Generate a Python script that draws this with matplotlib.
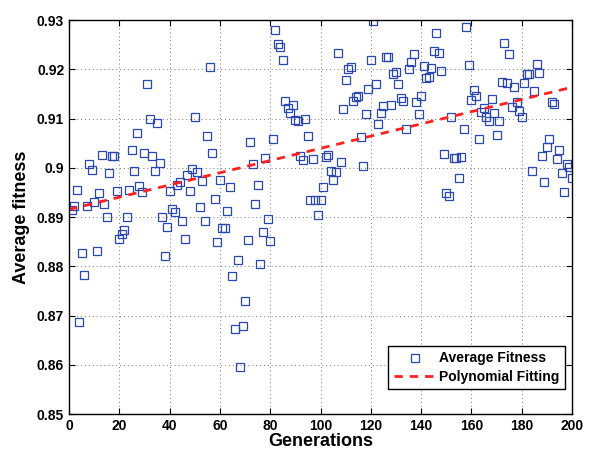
import matplotlib
matplotlib.use("Agg")
import matplotlib.pyplot as plt
import numpy as np

# Данные: поколения и средняя приспособленность
generations = np.arange(1, 201)
avg_fitness = [
    0.8915, 0.8922, 0.8955, 0.8686, 0.8826, 0.8783, 0.8922, 0.9008, 0.8996, 0.8930,
    0.8832, 0.8949, 0.9026, 0.8927, 0.8901, 0.8990, 0.9023, 0.9023, 0.8952, 0.8856,
    0.8866, 0.8873, 0.8901, 0.8955, 0.9037, 0.8993, 0.9070, 0.8962, 0.8950, 0.9030,
    0.9170, 0.9099, 0.9023, 0.8994, 0.9091, 0.9009, 0.8901, 0.8820, 0.8880, 0.8952,
    0.8916, 0.8911, 0.8966, 0.8971, 0.8891, 0.8855, 0.8986, 0.8953, 0.8997, 0.9103,
    0.8991, 0.8920, 0.8973, 0.8891, 0.9064, 0.9204, 0.9030, 0.8937, 0.8849, 0.8976,
    0.8878, 0.8878, 0.8912, 0.8960, 0.8781, 0.8672, 0.8812, 0.8596, 0.8678, 0.8730,
    0.8854, 0.9053, 0.9008, 0.8927, 0.8964, 0.8805, 0.8869, 0.9020, 0.8895, 0.8852,
    0.9058, 0.9280, 0.9251, 0.9246, 0.9218, 0.9136, 0.9122, 0.9111, 0.9127, 0.9096,
    0.9094, 0.9023, 0.9015, 0.9099, 0.9064, 0.8935, 0.9018, 0.8935, 0.8905, 0.8934,
    0.8961, 0.9022, 0.9026, 0.8994, 0.8976, 0.8991, 0.9234, 0.9012, 0.9119, 0.9178,
    0.9200, 0.9204, 0.9136, 0.9143, 0.9145, 0.9062, 0.9004, 0.9109, 0.9159, 0.9218,
    0.9299, 0.9170, 0.9089, 0.9111, 0.9126, 0.9224, 0.9224, 0.9128, 0.9191, 0.9195,
    0.9170, 0.9141, 0.9136, 0.9079, 0.9201, 0.9214, 0.9230, 0.9133, 0.9109, 0.9145,
    0.9207, 0.9182, 0.9184, 0.9203, 0.9238, 0.9273, 0.9234, 0.9196, 0.9028, 0.8949,
    0.8943, 0.9103, 0.9020, 0.9020, 0.8980, 0.9021, 0.9078, 0.9286, 0.9208, 0.9138,
    0.9158, 0.9145, 0.9058, 0.9114, 0.9122, 0.9104, 0.9095, 0.9140, 0.9111, 0.9067,
    0.9095, 0.9174, 0.9253, 0.9173, 0.9232, 0.9124, 0.9163, 0.9133, 0.9116, 0.9104,
    0.9172, 0.9190, 0.9191, 0.8994, 0.9155, 0.9210, 0.9192, 0.9023, 0.8972, 0.9043,
    0.9058, 0.9134, 0.9129, 0.9018, 0.9036, 0.8989, 0.8950, 0.9008, 0.9001, 0.8980,
]
x_ticks = list(range(0, 201, 20))
y_ticks = [0.85, 0.86, 0.87, 0.88, 0.89, 0.90, 0.91, 0.92, 0.93]

plt.rcParams['font.family'] = ['Liberation Sans', 'DejaVu Sans']
plt.rcParams['font.weight'] = 'bold'

fig = plt.figure(figsize=(5.92, 4.55), dpi=100)
ax = fig.add_axes([0.1166, 0.0901, 0.8496, 0.8659])

# Точки
ax.plot(generations, avg_fitness, linestyle='none', marker='s', markersize=5.2,
        markerfacecolor='none', markeredgecolor='#2a47b0', markeredgewidth=0.9,
        label='Average Fitness')

# Полиномиальная аппроксимация (1-й степени)
coef = np.polyfit(generations, avg_fitness, 1)
x_fit = np.array([0, 200])
ax.plot(x_fit, np.polyval(coef, x_fit), color='#ff2020', linestyle='--',
        linewidth=2, dashes=(3, 2.5), label='Polynomial Fitting')

ax.set_xlim(0, 200)
ax.set_ylim(0.85, 0.93)
ax.set_xticks(x_ticks)
ax.set_yticks(y_ticks)
ax.set_yticklabels([f'{v:g}' for v in y_ticks])
ax.tick_params(direction='in', top=True, right=True, length=4, labelsize=10)
for lbl in ax.get_xticklabels() + ax.get_yticklabels():
    lbl.set_fontweight('bold')

ax.grid(True, linestyle=(0, (1, 3)), color='#777777', linewidth=0.7)
for s in ax.spines.values():
    s.set_linewidth(1.0)

ax.set_xlabel('Generations', fontsize=13, fontweight='bold', labelpad=0)
ax.set_ylabel('Average fitness', fontsize=13, fontweight='bold', labelpad=5)

leg = ax.legend(loc='lower right', bbox_to_anchor=(0.986, 0.063),
                fancybox=False, framealpha=1, edgecolor='black',
                prop={'weight': 'bold', 'size': 10}, handlelength=3.0,
                handletextpad=0.25, borderaxespad=0, borderpad=0.4,
                labelspacing=0.3)
leg.get_frame().set_linewidth(1.0)

fig.savefig('out.png', dpi=100)
